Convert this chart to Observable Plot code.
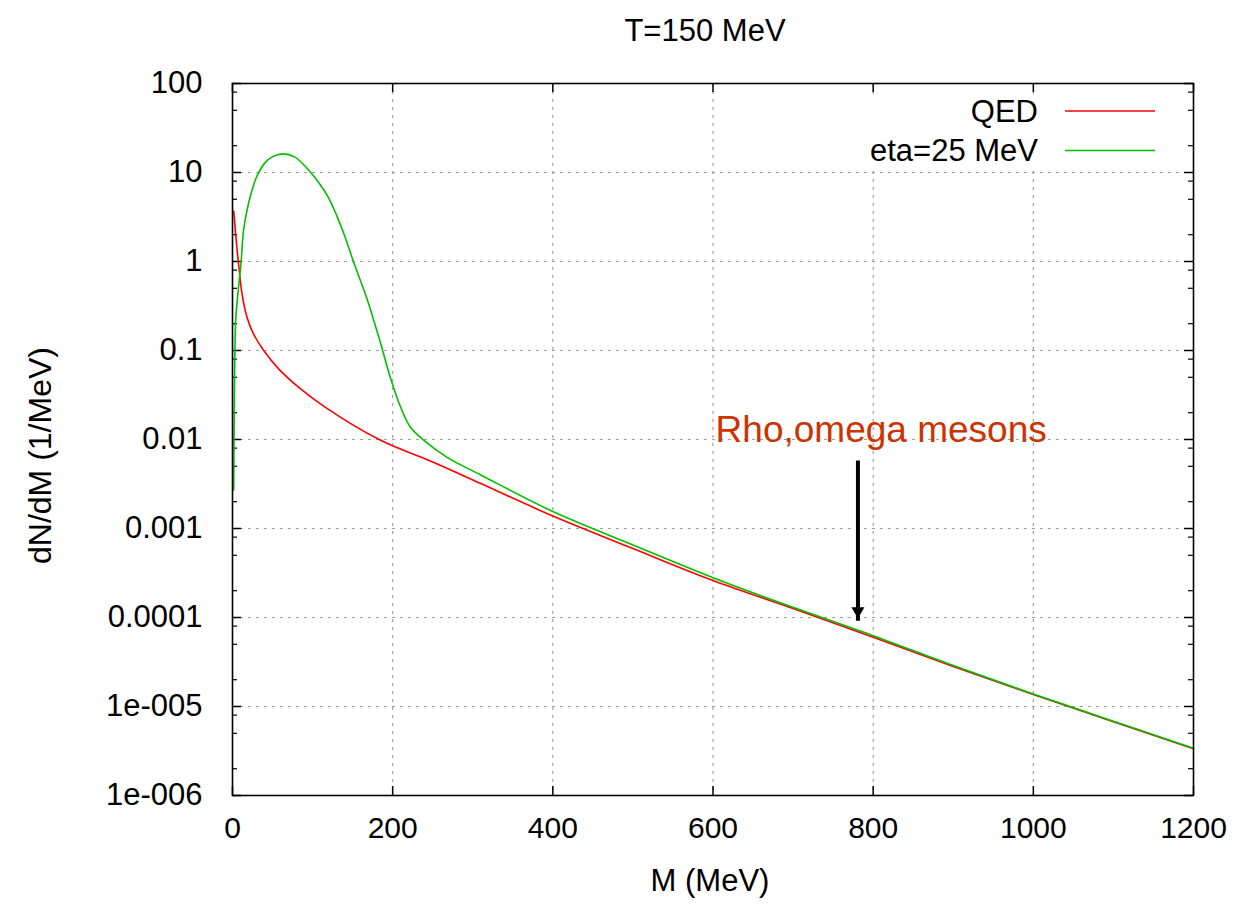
<!DOCTYPE html>
<html><head><meta charset="utf-8">
<script src="https://cdn.jsdelivr.net/npm/d3@7"></script>
<script src="https://cdn.jsdelivr.net/npm/@observablehq/plot@0.6"></script>
<style>body{margin:0;background:#fff;} #chart{width:1234px;height:913px;}</style>
</head><body><div id="chart"></div>
<script>
const title = "T=150 MeV";
const xLabel = "M (MeV)";
const yLabel = "dN/dM (1/MeV)";
const seriesNames = ["QED", "eta=25 MeV"];
const seriesColors = ["#ff0000", "#00c000"];

const qedM = [1.5, 5.4, 8.4, 11.6, 17.9, 26, 39, 57, 82, 116, 185, 250, 310, 400, 497, 600, 700, 800, 900, 1000, 1100, 1200];
const qedN = [3.7, 1.45, 0.8, 0.45, 0.24, 0.155, 0.1, 0.063, 0.039, 0.023, 0.0098, 0.0056, 0.0032, 0.00138, 0.00061, 0.00026, 1.26e-4, 6.0e-5, 2.82e-5, 1.36e-5, 6.76e-6, 3.35e-6];

const etaM = [1.5, 2.5, 4, 7.5, 10.8, 13.7, 18, 22, 30, 41, 49, 62, 78, 99, 110, 120, 130, 140, 151, 168, 185, 197, 210, 222, 239, 268, 310, 400, 497, 600, 700, 800, 900, 1000, 1100, 1200];
const etaN = [0.0027, 0.04, 0.22, 0.51, 1.0, 2.2, 3.7, 5.3, 8.9, 13, 14.9, 16.2, 14.9, 9.7, 7.2, 5.2, 3.3, 1.95, 1.0, 0.38, 0.12, 0.05, 0.023, 0.0138, 0.0098, 0.0063, 0.004, 0.00155, 0.00067, 0.00028, 1.3e-4, 6.25e-5, 2.88e-5, 1.38e-5, 6.84e-6, 3.39e-6];

const xTicks = [0, 200, 400, 600, 800, 1000, 1200];
const yTicks = [1e-6, 1e-5, 1e-4, 1e-3, 1e-2, 1e-1, 1, 10, 100];
const yTickLabels = ["1e-006", "1e-005", "0.0001", "0.001", "0.01", "0.1", "1", "10", "100"];
const yMinorFactors = [2, 5, 8];

const annotationText = "Rho,omega mesons";
const annotationM = 810;
const annotationN = 0.0126;
const arrowM = 781;
const arrowTop = 0.0058;
const arrowTip = 9.2e-5;

const rows = [
  ...qedM.map((m, i) => ({M: m, N: qedN[i], s: seriesNames[0]})),
  ...etaM.map((m, i) => ({M: m, N: etaN[i], s: seriesNames[1]}))
];
const yMinor = [];
yTicks.slice(0, -1).forEach(d => yMinorFactors.forEach(f => yMinor.push(d * f)));
const yLabelMap = new Map(yTicks.map((d, i) => [d, yTickLabels[i]]));

const W = 1234, H = 913, mL = 232, mR = 41, mT = 83, mB = 118;
const fw = W - mL - mR, fh = H - mT - mB;
const FONT = "'Liberation Sans', Arial, sans-serif";
const gridStyle = {stroke: "#a0a0a0", strokeOpacity: 1, strokeDasharray: "3,5", strokeWidth: 1.2};

const chart = Plot.plot({
  width: W, height: H,
  marginLeft: mL, marginRight: mR, marginTop: mT, marginBottom: mB,
  style: {fontFamily: FONT, fontSize: "31px", color: "black", background: "white", overflow: "visible"},
  x: {domain: [0, 1200]},
  y: {type: "log", domain: [1e-6, 100]},
  color: {domain: seriesNames, range: seriesColors},
  marks: [
    Plot.gridX(xTicks.slice(1, -1), gridStyle),
    Plot.gridY(yTicks.slice(1, -1), gridStyle),
    Plot.axisX(xTicks, {tickSize: 0, tickPadding: 21, label: null, fontSize: 30, tickFormat: d => String(d)}),
    Plot.axisY(yTicks, {tickSize: 0, tickPadding: 30, label: null, fontSize: 31, tickFormat: d => yLabelMap.get(d)}),
    // inward major and minor ticks (gnuplot style, mirrored)
    Plot.tickY(yTicks, {y: d => d, insetRight: fw - 9, stroke: "black", strokeWidth: 1.5}),
    Plot.tickY(yTicks, {y: d => d, insetLeft: fw - 9, stroke: "black", strokeWidth: 1.5}),
    Plot.tickY(yMinor, {y: d => d, insetRight: fw - 5, stroke: "black", strokeWidth: 1.2}),
    Plot.tickY(yMinor, {y: d => d, insetLeft: fw - 5, stroke: "black", strokeWidth: 1.2}),
    Plot.tickX(xTicks, {x: d => d, insetTop: fh - 9, stroke: "black", strokeWidth: 1.5}),
    Plot.tickX(xTicks, {x: d => d, insetBottom: fh - 9, stroke: "black", strokeWidth: 1.5}),
    Plot.line(rows, {x: "M", y: "N", z: "s", stroke: "s", strokeWidth: 1.6, curve: "catmull-rom"}),
    Plot.frame({stroke: "black", strokeWidth: 1.6}),
    Plot.text([title], {frameAnchor: "top", dy: -65, dx: -8, text: d => d, fontSize: 31}),
    Plot.text([xLabel], {frameAnchor: "bottom", dy: 95, dx: -3, text: d => d, fontSize: 31}),
    Plot.text([yLabel], {frameAnchor: "left", textAnchor: "middle", dx: -192, dy: 16, rotate: -90, text: d => d, fontSize: 32}),
    Plot.text([annotationText], {x: () => annotationM, y: () => annotationN, text: d => d, fontSize: 37, fill: "#cc3300"}),
    Plot.link([0], {x1: () => arrowM, x2: () => arrowM, y1: () => arrowTop, y2: () => arrowTip, stroke: "black", strokeWidth: 4}),
    Plot.dot([0], {x: () => arrowM, y: () => arrowTip, symbol: "triangle2", rotate: 180, r: 6.2, fill: "black", stroke: "none", dy: -9.6})
  ]
});

// legend (gnuplot-style opaque key in top-right)
const svg = d3.select(chart);
const key = svg.append("g").attr("font-family", FONT).attr("font-size", 31);
key.append("rect").attr("x", 852).attr("y", 94).attr("width", 318).attr("height", 72).attr("fill", "white");
seriesNames.forEach((name, i) => {
  const y = 111 + i * 39.5;
  key.append("text").attr("x", 1038).attr("y", y).attr("dy", "0.35em").attr("text-anchor", "end").attr("fill", "black").text(name);
  key.append("line").attr("x1", 1065).attr("x2", 1155).attr("y1", y).attr("y2", y).attr("stroke", seriesColors[i]).attr("stroke-width", 1.6);
});

document.getElementById("chart").appendChild(chart);
</script>
</body></html>
